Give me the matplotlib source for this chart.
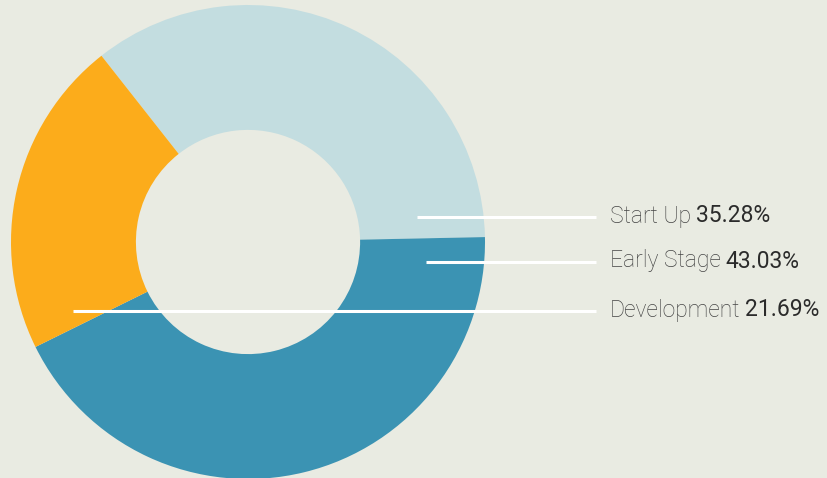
import matplotlib.pyplot as plt

# data
labels = ["Start Up", "Early Stage", "Development"]
shares = [35.28, 43.03, 21.69]
colors = ["#c3dde0", "#3b93b3", "#fcac1b"]

bg = "#e9ebe2"
W, H = 827, 478
cx, cy, R = 248, 242, 237   # donut centre / radius in pixels

fig = plt.figure(figsize=(W / 100, H / 100), dpi=100, facecolor=bg)
ax = fig.add_axes([(cx - R) / W, (H - cy - R) / H, 2 * R / W, 2 * R / H])
ax.set_facecolor(bg)

ax.pie(shares, colors=colors, startangle=128.2, counterclock=False,
       radius=1, wedgeprops=dict(width=0.527, linewidth=0))
ax.set_xlim(-1, 1)
ax.set_ylim(-1, 1)
ax.set_aspect("equal")
ax.axis("off")

# leader lines (pixel positions -> data units)
line_start_x = [417, 426, 73]
line_y = [217, 262, 311]
line_end_x = 596
text_x = 610

def px(x, y):
    return (x - cx) / R, (cy - y) / R

renderer = fig.canvas.get_renderer()
for lab, val, x0, y in zip(labels, shares, line_start_x, line_y):
    (a, b), (c, _) = px(x0, y), px(line_end_x, y)
    ax.plot([a, c], [b, b], color="white", lw=2.2, solid_capstyle="butt", clip_on=False)
    tx, ty = px(text_x, y - 1)
    t = ax.text(tx, ty, lab, fontsize=16.5, family="Roboto", fontweight="light",
                color="#444444", va="center", ha="left", clip_on=False)
    bb = t.get_window_extent(renderer)
    x_num = ax.transData.inverted().transform((bb.x1 + 5, 0))[0]
    ax.text(x_num, ty, f"{val:.2f}%", fontsize=16.5, family="Roboto", fontweight="regular",
            color="#2b2b2b", va="center", ha="left", clip_on=False)

fig.savefig("out.png", dpi=100, facecolor=bg)
